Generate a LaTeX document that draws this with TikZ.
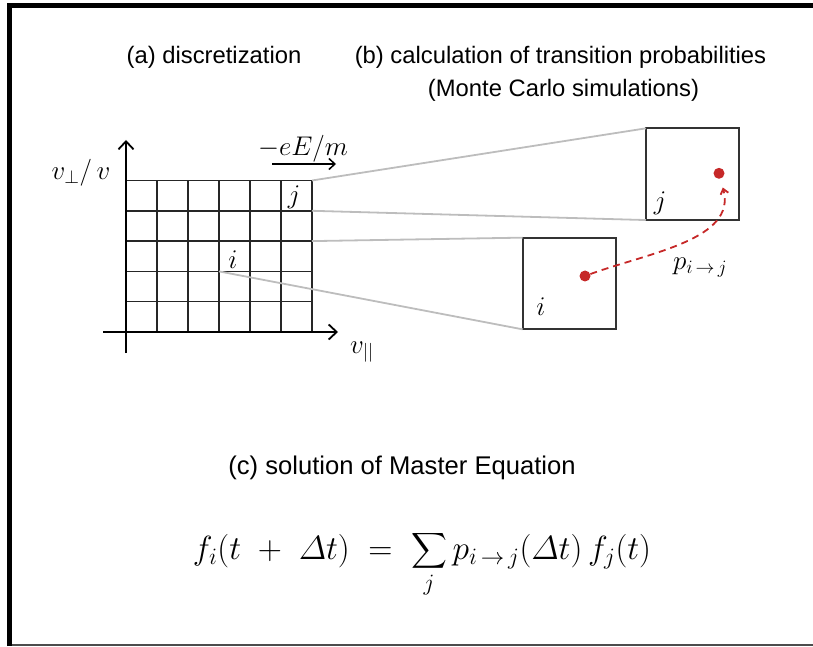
\RequirePackage{fix-cm}
\documentclass[tikz,border=0pt]{standalone}
\usepackage{amsmath}
\usepackage{fontspec}
\setsansfont{Liberation Sans}
\usepackage{xcolor}
\usepackage{tikz}
\usetikzlibrary{arrows.meta}

\definecolor{dotred}{HTML}{C62828}
\definecolor{linkgray}{HTML}{BDBDBD}
\definecolor{boxgray}{HTML}{333333}

\begin{document}
\begin{tikzpicture}[x=1pt, y=1pt, >={Straight Barb[length=8pt,width=15pt]},
    title/.style={font=\sffamily\fontsize{23.8}{28}\selectfont, anchor=base, inner sep=0pt},
    lbl/.style={font=\fontsize{27}{30}\selectfont, inner sep=0pt},
    cell/.style={draw=boxgray, line width=2pt, minimum width=93.5pt, minimum height=91.7pt, inner sep=0pt, outer sep=0pt},
    dot/.style={circle, fill=dotred, minimum size=11pt, inner sep=0pt},
    link/.style={draw=linkgray, line width=1.8pt},
    hop/.style={dotred, line width=1.8pt, dash pattern=on 7pt off 5pt, -{Straight Barb[length=5pt,width=8pt]}}]

    \useasboundingbox (0,0) rectangle (813,646);
    \draw[line width=5pt] (9.8,0) -- (9.8,640) -- (813,640);
    \draw[line width=2pt, black!70] (12,1) -- (813,1);

    \node[title] (ta) at (214,582) {(a) discretization};
    \node[title] (tb) at (560.5,582) {(b) calculation of transition probabilities};
    \node[title] (tb2) at (563.5,549.3) {(Monte Carlo simulations)};
    \node[title, font=\sffamily\fontsize{25.6}{30}\selectfont] (tc) at (402,172) {(c) solution of Master Equation};

    \draw[black!85, line width=1.5pt, shift={(126,314)}, xstep=31, ystep=30.3] (0,0) grid (186.01,151.6);
    \coordinate (g5) at (312,465.5);
    \coordinate (g4) at (312,435.2);
    \coordinate (g3) at (312,404.9);
    \coordinate (g2) at (219,374.6);

    \coordinate (yb) at (126,293);
    \coordinate (yt) at (126,506);
    \coordinate (xl) at (103,314);
    \coordinate (xr) at (338,314);
    \draw[->, line width=1.8pt] (yb) -- (yt);
    \draw[->, line width=1.8pt] (xl) -- (xr);
    \node[lbl] (vperp) at (81,473) {$v_\perp/\,v$};
    \node[lbl] (vpar) at (362,294) {$v_{||}$};

    \node[lbl] (force) at (303,497) {$-eE/m$};
    \coordinate (fa) at (272,482);
    \coordinate (fb) at (336,482);
    \draw[-{Straight Barb[length=6pt,width=11pt]}, line width=1.5pt] (fa) -- (fb);

    \node[lbl] (jg) at (294,449) {$j$};
    \node[lbl] (ig) at (233,386) {$i$};

    \node[cell] (boxj) at (692.5,471.8) {};
    \node[cell] (boxi) at (569.4,362.5) {};
    \node[lbl] (jb) at (660,443) {$j$};
    \node[lbl] (ib) at (541,339) {$i$};

    \draw[link] (g5) -- (boxj.north west);
    \draw[link] (g4) -- (boxj.south west);
    \draw[link] (g3) -- (boxi.north west);
    \draw[link] (g2) -- (boxi.south west);

    \node[dot] (di) at (585,370) {};
    \node[dot] (dj) at (719,472.7) {};
    \draw[hop, shorten >=9pt] (di) to[out=20, in=-75] (dj);
    \node[lbl] (pij) at (700,378) {$p_{i\,\rightarrow\,j}$};

    \node[font=\fontsize{33.5}{40}\selectfont, inner sep=0pt] (eq) at (422,82)
        {$\displaystyle f_i(t\;+\;\varDelta t)\;=\;\sum_j p_{i\,\rightarrow\,j}(\varDelta t)\,f_j(t)$};
\end{tikzpicture}
\end{document}
